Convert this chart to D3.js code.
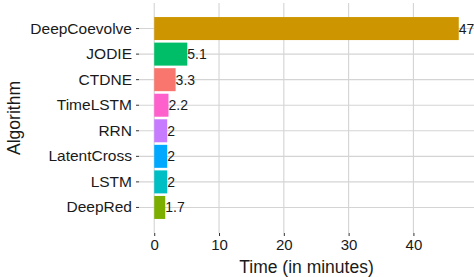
<!DOCTYPE html>
<html>
<head>
<meta charset="utf-8">
<script src="https://d3js.org/d3.v7.min.js"></script>
<style>
  body { margin: 0; background: #fff; }
  text { font-family: "Liberation Sans", Arial, sans-serif; }
</style>
</head>
<body>
<div id="chart"></div>
<script>
const algorithms = ["DeepCoevolve", "JODIE", "CTDNE", "TimeLSTM", "RRN", "LatentCross", "LSTM", "DeepRed"];
const times = [47, 5.1, 3.3, 2.2, 2, 2, 2, 1.7];
const barColors = ["#CD9600", "#00BE67", "#F8766D", "#FF61CC", "#C77CFF", "#00A9FF", "#00BFC4", "#7CAE00"];
const xTicks = [0, 10, 20, 30, 40];

const width = 474, height = 277;
const margin = { top: 3, right: 0, bottom: 44, left: 139 };
const w = width - margin.left - margin.right;
const h = height - margin.top - margin.bottom;

const svg = d3.select("#chart").append("svg")
  .attr("width", width)
  .attr("height", height);

const g = svg.append("g")
  .attr("transform", `translate(${margin.left},${margin.top})`);

const maxVal = d3.max(times);
const x = d3.scaleLinear()
  .domain([-maxVal * 0.05, maxVal * 1.05])
  .range([0, w]);

const y = d3.scaleBand()
  .domain(algorithms)
  .range([0, h])
  .paddingInner(0.1)
  .paddingOuter(0.55);

// grid
g.append("g").selectAll("line.v")
  .data(xTicks).enter().append("line")
  .attr("x1", d => x(d)).attr("x2", d => x(d))
  .attr("y1", 0).attr("y2", h)
  .attr("stroke", "#d4d4d4").attr("stroke-width", 1.1);

g.append("g").selectAll("line.h")
  .data(algorithms).enter().append("line")
  .attr("x1", 0).attr("x2", w)
  .attr("y1", d => y(d) + y.bandwidth() / 2).attr("y2", d => y(d) + y.bandwidth() / 2)
  .attr("stroke", "#d4d4d4").attr("stroke-width", 1.1);

// bars
g.selectAll("rect.bar")
  .data(algorithms).enter().append("rect")
  .attr("x", x(0))
  .attr("y", d => y(d))
  .attr("width", (d, i) => x(times[i]) - x(0))
  .attr("height", y.bandwidth())
  .attr("fill", (d, i) => barColors[i]);

// value labels
g.selectAll("text.val")
  .data(algorithms).enter().append("text")
  .attr("x", (d, i) => x(times[i]))
  .attr("y", d => y(d) + y.bandwidth() / 2)
  .attr("dy", "0.36em")
  .attr("font-size", 14)
  .attr("fill", "#1a1a1a")
  .text((d, i) => times[i]);

// axes
const xAxis = g.append("g")
  .attr("transform", `translate(0,${h})`)
  .call(d3.axisBottom(x).tickValues(xTicks).tickSize(3).tickPadding(3));
xAxis.select(".domain").remove();
xAxis.selectAll("line").attr("stroke", "#333");
xAxis.selectAll("text").attr("font-size", 15).attr("fill", "#1a1a1a")
  .style("font-family", "Liberation Sans, Arial, sans-serif");

const yAxis = g.append("g")
  .call(d3.axisLeft(y).tickSize(3).tickPadding(4));
yAxis.select(".domain").remove();
yAxis.selectAll("line").attr("stroke", "#333");
yAxis.selectAll("text").attr("font-size", 15.5).attr("fill", "#1a1a1a")
  .style("font-family", "Liberation Sans, Arial, sans-serif");

// titles
svg.append("text")
  .attr("x", margin.left + w / 2)
  .attr("y", height - 4)
  .attr("text-anchor", "middle")
  .attr("font-size", 17.5)
  .attr("fill", "#1a1a1a")
  .text("Time (in minutes)");

svg.append("text")
  .attr("transform", `translate(20,${margin.top + h / 2}) rotate(-90)`)
  .attr("text-anchor", "middle")
  .attr("font-size", 17.5)
  .attr("fill", "#1a1a1a")
  .text("Algorithm");
</script>
</body>
</html>
